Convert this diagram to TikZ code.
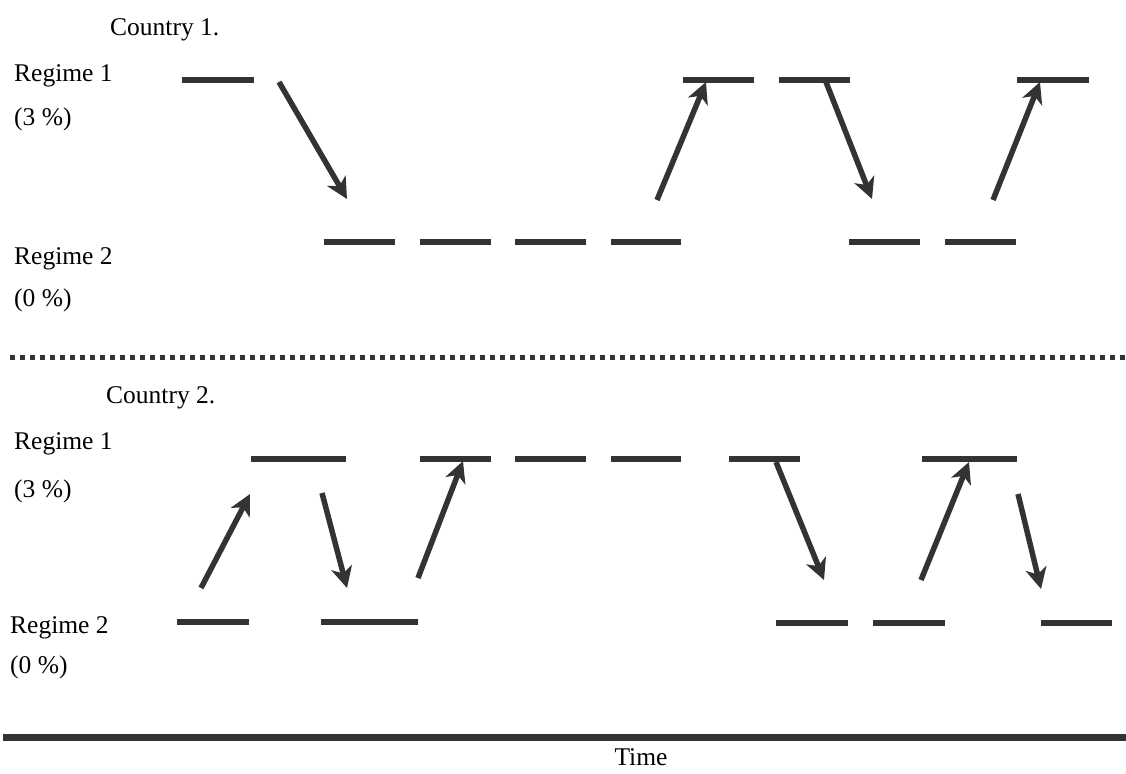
\documentclass[tikz,border=0pt]{standalone}
\usepackage{fontspec}
\setmainfont{Liberation Serif}
\usetikzlibrary{arrows.meta}
\definecolor{ink}{HTML}{333333}
\begin{document}
\begin{tikzpicture}[x=1pt,y=-1pt,
  lab/.style={anchor=base west,inner sep=0pt,font=\fontsize{25.5}{30}\selectfont},
  lvl/.style={line width=6pt,draw=ink},
  jump/.style={line width=5.5pt,draw=ink,-{Stealth[length=21pt,width=21pt,inset=6pt]}}]
\useasboundingbox (0,0) rectangle (1126,773);
% regime level: x from, x to, y
\def\lv#1#2#3{
\draw[lvl] (#1,#3) -- (#2,#3);
}
% switch: name, start, end
\def\jp#1#2#3#4#5{
\coordinate (#1s) at (#2,#3);
\coordinate (#1e) at (#4,#5);
\draw[jump] (#1s) -- (#1e);
}
% Country 1
\node[lab] (c1) at (110,36) {Country 1.};
\node[lab] (c1r1) at (14,82) {Regime 1};
\node[lab] (c1p1) at (14,125) {(3 \%)};
\node[lab] (c1r2) at (14,264) {Regime 2};
\node[lab] (c1p2) at (14,306) {(0 \%)};
\lv{182}{254}{80}
\lv{683}{754}{80}
\lv{779}{850}{80}
\lv{1017}{1089}{80}
\lv{324}{395}{242}
\lv{420}{491}{242}
\lv{515}{586}{242}
\lv{611}{681}{242}
\lv{849}{920}{242}
\lv{945}{1016}{242}
\jp{a}{279}{82}{347}{199}
\jp{b}{657}{200}{706}{82}
\jp{c}{826}{82}{872}{199}
\jp{d}{993}{200}{1040}{82}
% separator
\draw[line width=5pt,draw=ink,dash pattern=on 5pt off 5pt] (10,357) -- (1126,357);
% Country 2
\node[lab] (c2) at (106,403) {Country 2.};
\node[lab] (c2r1) at (14,449) {Regime 1};
\node[lab] (c2p1) at (14,497) {(3 \%)};
\node[lab] (c2r2) at (10,633) {Regime 2};
\node[lab] (c2p2) at (10,673) {(0 \%)};
\lv{251}{346}{459}
\lv{420}{491}{459}
\lv{515}{586}{459}
\lv{611}{681}{459}
\lv{729}{800}{459}
\lv{922}{1017}{459}
\lv{177}{249}{622}
\lv{321}{418}{622}
\lv{776}{848}{623}
\lv{873}{945}{623}
\lv{1041}{1112}{623}
\jp{e}{201}{588}{250}{494}
\jp{f}{322}{493}{347}{588}
\jp{g}{418}{578}{463}{461}
\jp{h}{776}{462}{824}{580}
\jp{i}{921}{580}{969}{462}
\jp{j}{1018}{494}{1041}{589}
% time axis
\draw[line width=7pt,draw=ink] (3,737) -- (1126,737);
\node[lab,anchor=base] (time) at (641,765) {Time};
\end{tikzpicture}
\end{document}
